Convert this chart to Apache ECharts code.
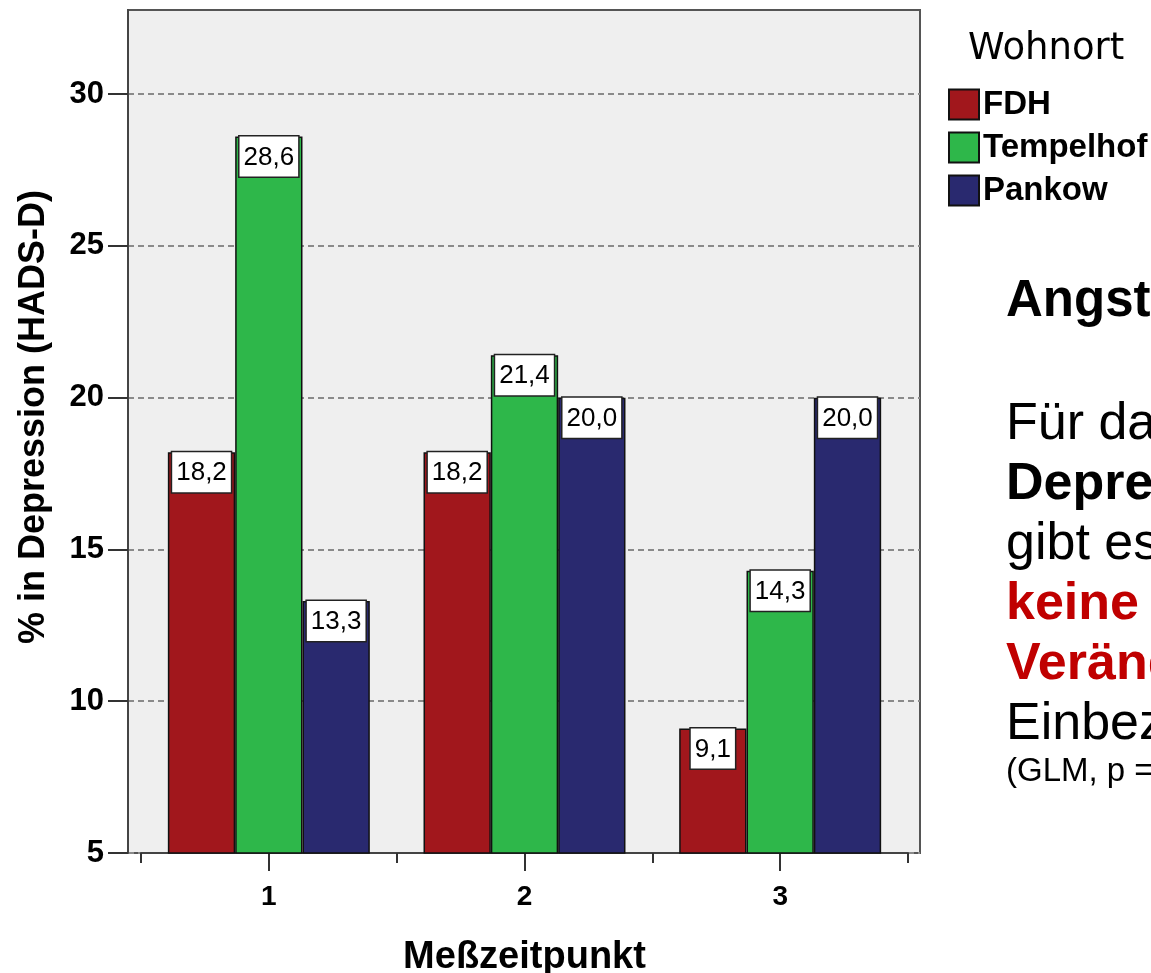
<!DOCTYPE html>
<html>
<head>
<meta charset="utf-8">
<script src="https://cdn.jsdelivr.net/npm/echarts@6/dist/echarts.min.js"></script>
<style>
  html, body { margin: 0; padding: 0; background: #ffffff; }
  #chart { width: 1151px; height: 973px; }
</style>
</head>
<body>
<div id="chart"></div>
<script>
// Measurement points and group values (% in depression, HADS-D)
const categories = ['1', '2', '3'];
const groupNames = ['FDH', 'Tempelhof', 'Pankow'];
const fdhValues = [18.2, 18.2, 9.1];
const tempelhofValues = [28.6, 21.4, 14.3];
const pankowValues = [13.3, 20.0, 20.0];
const yTickValues = [5, 10, 15, 20, 25, 30];

const groupValues = [fdhValues, tempelhofValues, pankowValues];
const groupColors = ['#a1171c', '#2eb74a', '#29296f'];

const FONT = '"Liberation Sans", Arial, Helvetica, sans-serif';
const Y_MIN = 5, Y_MAX = 32.77;

const chart = echarts.init(document.getElementById('chart'), null, { renderer: 'canvas' });

const series = groupNames.map((name, i) => ({
  name: name,
  type: 'bar',
  xAxisIndex: 1,
  yAxisIndex: 1,
  data: groupValues[i],
  barGap: '0%',
  barCategoryGap: '21%',
  itemStyle: { color: groupColors[i], borderColor: '#111', borderWidth: 1.5 },
  label: {
    show: true,
    position: 'insideTop',
    distance: 0,
    formatter: p => p.value.toFixed(1).replace('.', ','),
    backgroundColor: '#ffffff',
    borderColor: '#222',
    borderWidth: 1.5,
    padding: [8, 4, 6, 4],
    fontFamily: FONT,
    fontSize: 26,
    lineHeight: 26,
    color: '#000'
  }
}));

// Explanatory text block to the right of the chart
const sideText = [
  { text: 'Angst und Depression', y: 302, size: 51, weight: 'bold', color: '#000' },
  { text: 'Für das Merkmal', y: 425, size: 52, weight: 'normal', color: '#000' },
  { text: 'Depression', y: 485, size: 52, weight: 'bold', color: '#000' },
  { text: 'gibt es', y: 545, size: 52, weight: 'normal', color: '#000' },
  { text: 'keine signifikante', y: 605, size: 52, weight: 'bold', color: '#c00000' },
  { text: 'Veränderung', y: 665, size: 52, weight: 'bold', color: '#c00000' },
  { text: 'Einbeziehung', y: 725, size: 52, weight: 'normal', color: '#000' },
  { text: '(GLM, p = n.s.)', y: 772, size: 33, weight: 'normal', color: '#000' }
];

const option = {
  animation: false,
  backgroundColor: '#ffffff',
  textStyle: { fontFamily: FONT },
  grid: [
    { // frame, background, value axis
      left: 128, top: 10, width: 792, height: 843,
      show: true, backgroundColor: '#efefef', borderColor: '#555', borderWidth: 2,
      containLabel: false, outerBoundsMode: 'none'
    },
    { // bar area with inset category bands
      left: 141, top: 10, width: 767, height: 843,
      containLabel: false, outerBoundsMode: 'none'
    }
  ],
  xAxis: [
    { gridIndex: 0, type: 'value', min: 0, max: 1, show: false },
    {
      gridIndex: 1, type: 'category', data: categories, position: 'bottom',
      axisLine: { show: true, lineStyle: { color: '#444', width: 2 } },
      axisTick: { show: true, alignWithLabel: false, length: 10, lineStyle: { color: '#333', width: 2 } },
      axisLabel: { fontFamily: FONT, fontSize: 28, fontWeight: 'bold', color: '#000', margin: 30 },
      name: 'Meßzeitpunkt', nameLocation: 'middle', nameGap: 86,
      nameTextStyle: { fontFamily: FONT, fontSize: 38, fontWeight: 'bold', color: '#000' }
    },
    {
      gridIndex: 1, type: 'category', data: categories, position: 'bottom',
      axisLine: { show: false },
      axisTick: { show: true, alignWithLabel: true, length: 18, lineStyle: { color: '#333', width: 2 } },
      axisLabel: { show: false }
    }
  ],
  yAxis: [
    {
      gridIndex: 0, type: 'value', min: Y_MIN, max: Y_MAX, interval: 5,
      axisLine: { show: true, lineStyle: { color: '#444', width: 2 } },
      axisTick: { show: true, customValues: yTickValues, length: 20, lineStyle: { color: '#333', width: 2 } },
      axisLabel: {
        customValues: yTickValues, margin: 24,
        fontFamily: FONT, fontSize: 31, fontWeight: 'bold', color: '#000'
      },
      splitLine: { show: true, lineStyle: { color: '#8a8a8a', width: 2, type: [6, 4] } }
    },
    { gridIndex: 1, type: 'value', min: Y_MIN, max: Y_MAX, interval: 5, show: false }
  ],
  legend: {
    data: groupNames,
    orient: 'vertical',
    left: 948, top: 88,
    itemWidth: 30, itemHeight: 30, itemGap: 10,
    icon: 'rect',
    padding: 0,
    selectedMode: false,
    textStyle: { fontFamily: FONT, fontSize: 33, fontWeight: 'bold', color: '#000', padding: [0, 0, 0, -1] }
  },
  graphic: [
    {
      type: 'text', left: 968, top: 31,
      style: { text: 'Wohnort', font: '37px "DejaVu Sans", sans-serif', fill: '#000' }
    },
    {
      type: 'text', x: 34, y: 417, rotation: Math.PI / 2,
      style: {
        text: '% in Depression (HADS-D)', align: 'center', verticalAlign: 'middle',
        font: 'bold 36px ' + FONT, fill: '#000'
      }
    }
  ].concat(sideText.map(t => ({
    type: 'text', x: 1006, y: t.y,
    style: {
      text: t.text, fill: t.color, verticalAlign: 'middle', align: 'left',
      font: t.weight + ' ' + t.size + 'px ' + FONT
    }
  }))),
  series: series
};

chart.setOption(option);
</script>
</body>
</html>
